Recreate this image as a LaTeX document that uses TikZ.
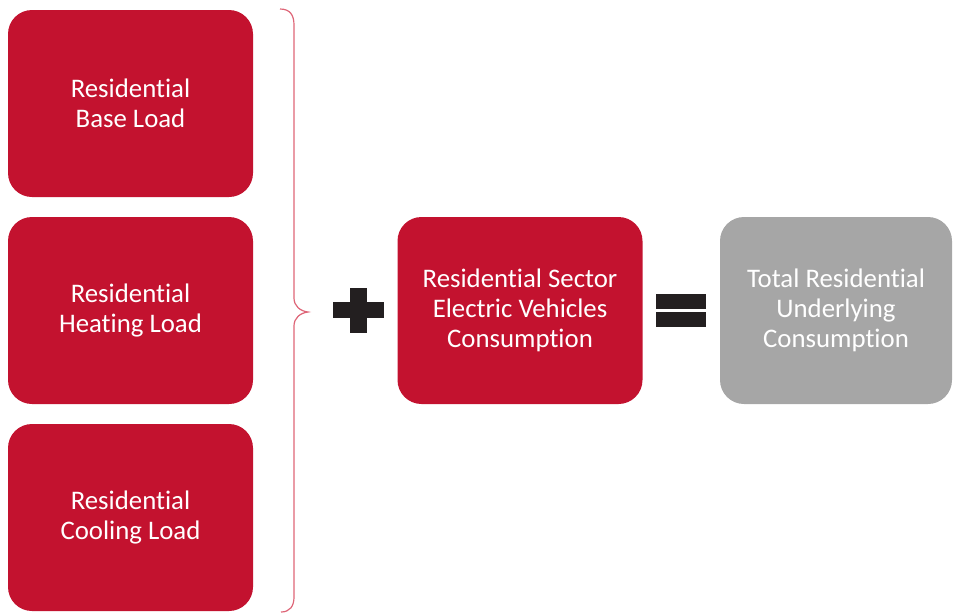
\documentclass[tikz,border=0pt]{standalone}
\usepackage{fontspec}
\setmainfont[Ligatures={NoCommon}]{Carlito}
\usetikzlibrary{positioning}
\definecolor{loadred}{HTML}{C3122F}
\definecolor{totalgray}{HTML}{A6A6A6}
\definecolor{signblack}{HTML}{231F20}
\definecolor{bracered}{HTML}{DE6577}

\begin{document}
\begin{tikzpicture}[x=1pt, y=-1pt, node distance=207pt, on grid,
	box/.style={rectangle, rounded corners=24pt, minimum width=245pt, minimum height=187pt,
		fill=loadred, text=white, align=center, inner sep=0pt,
		font=\fontsize{26.8}{30}\selectfont},
	totalbox/.style={box, fill=totalgray, minimum width=232pt}]
	\useasboundingbox (0,0) rectangle (954,614);
	\node[box] (base) at (130.5,103.5) {Residential\\Base Load};
	\node[box, below=of base] (heat) {Residential\\Heating Load};
	\node[box, below=of heat] (cool) {Residential\\Cooling Load};
	\node[box] (ev) at (520,310.5) {Residential Sector\\Electric Vehicles\\Consumption};
	\node[totalbox] (total) at (836,310.5) {Total Residential\\Underlying\\Consumption};
	
	% brace
	\coordinate (tip) at (308,312);
	\draw[bracered, line width=1.2pt] (280,9) .. controls (290,9) and (294,15) .. (294,25)
	-- (294,298) .. controls (294,306) and (300,311) .. (tip)
	.. controls (300,313) and (294,318) .. (294,326)
	-- (294,597) .. controls (294,606) and (290,612) .. (281,612);
	
	% plus and equals
	\fill[signblack] (350,288) rectangle (367,333);
	\fill[signblack] (333,302) rectangle (384,318);
	\fill[signblack] (656,294) rectangle (706,309);
	\fill[signblack] (656,312) rectangle (706,327);
\end{tikzpicture}
\end{document}
